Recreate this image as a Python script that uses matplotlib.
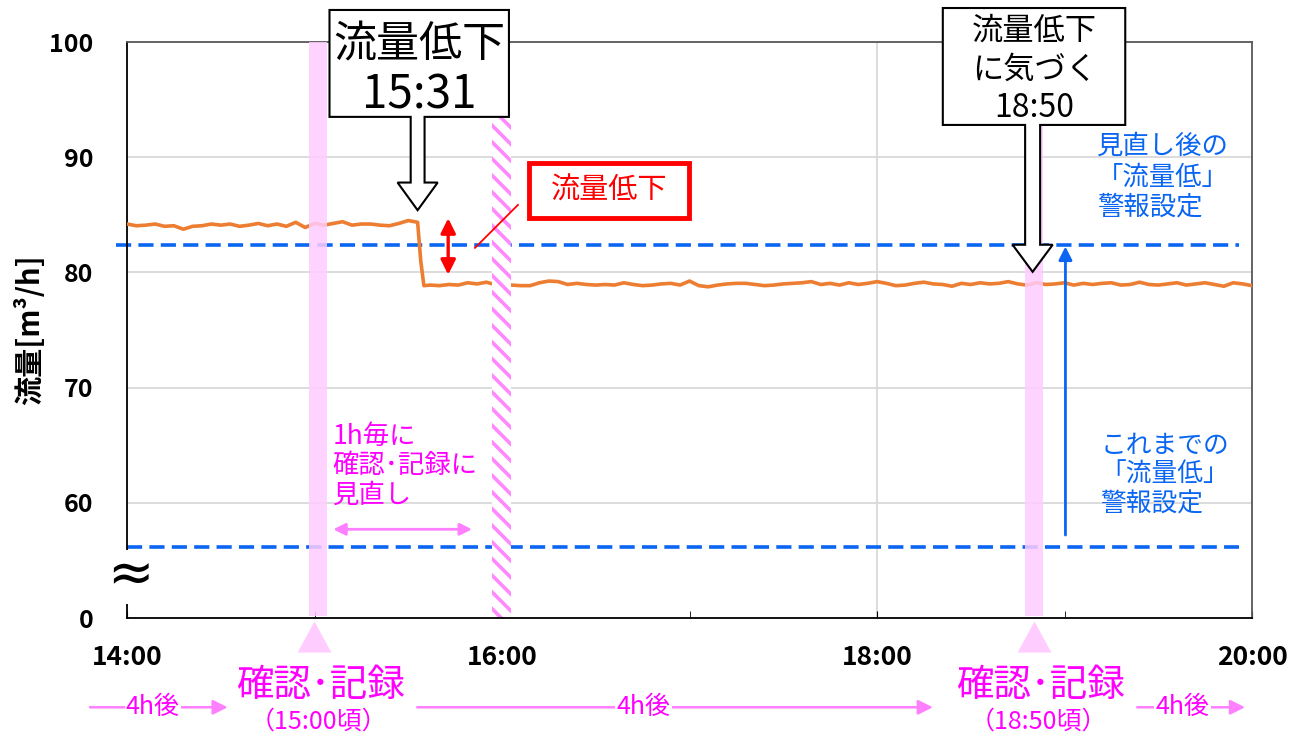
import numpy as np
import matplotlib
matplotlib.use("Agg")
import matplotlib.pyplot as plt
from matplotlib.patches import Polygon, Rectangle

plt.rcParams['font.family'] = ['Noto Sans CJK JP', 'DejaVu Sans']
plt.rcParams['hatch.linewidth'] = 2.6

# ---------------- data ----------------
# flow before the drop: 14:00 .. 15:33, every 3 minutes
flow_pre = [84.2, 84.05, 84.1, 84.2, 84.0, 84.05, 83.75, 84.0, 84.05, 84.2,
            84.1, 84.2, 84.0, 84.1, 84.25, 84.05, 84.2, 84.0, 84.35, 83.9,
            84.25, 84.1, 84.25, 84.4, 84.1, 84.2, 84.2, 84.1, 84.05, 84.25,
            84.5, 84.35]
# drop and low flow until 15:57 (minutes after 14:00)
drop_min = [94, 95, 97, 100, 103, 106, 109, 112, 115, 117]
flow_drop = [81.0, 78.85, 78.9, 78.85, 78.95, 78.9, 79.1, 79.0, 79.15, 79.0]
# flow 16:00 .. 20:00, every 3 minutes
flow_post = [78.9, 78.9, 78.85, 78.85, 79.1, 79.25, 79.2, 78.95, 79.05, 78.95,
             78.9, 78.95, 78.9, 79.1, 78.95, 78.85, 78.9, 79.0, 79.05, 78.9,
             79.25, 78.85, 78.75, 78.9, 79.0, 79.05, 79.05, 78.95, 78.85, 78.9,
             79.0, 79.05, 79.1, 79.2, 78.95, 79.05, 78.9, 79.1, 78.95, 79.05,
             79.2, 79.05, 78.85, 78.9, 79.05, 79.15, 79.0, 78.95, 78.8, 79.05,
             78.95, 79.1, 79.0, 79.05, 79.2, 79.0, 78.9, 79.1, 78.95, 79.0,
             79.1, 78.9, 79.05, 78.95, 79.05, 79.1, 78.9, 78.95, 79.15, 78.95,
             78.9, 79.0, 79.1, 78.9, 79.0, 79.1, 78.95, 78.8, 79.1, 79.0,
             78.85]

alarm_new = 82.4      # display scale (axis broken below 60)
alarm_old = 56.2
y_ticks = [50, 60, 70, 80, 90, 100]
y_ticklabels = ['0', '60', '70', '80', '90', '100']
x_ticks = [14, 16, 18, 20]
x_ticklabels = ['14:00', '16:00', '18:00', '20:00']
check_times = [15.0, 18.84]          # 15:00, 18:50
check_labels = ['（15:00頃）', '（18:50頃）']
drop_time = 15.55
notice_time = 18.83
review_time = 16.0

t_pre = 14 + np.arange(len(flow_pre)) * 3 / 60
t_drop = 14 + np.array(drop_min) / 60
t_post = 16 + np.arange(len(flow_post)) * 3 / 60
t_all = np.concatenate([t_pre, t_drop, t_post])
f_all = np.concatenate([flow_pre, flow_drop, flow_post])

# ---------------- figure ----------------
fig = plt.figure(figsize=(12.89, 7.35), dpi=100)
ax = fig.add_axes([127/1289, 1-618/735, (1252-127)/1289, (618-42)/735])
ax.set_xlim(14, 20)
ax.set_ylim(50, 100)

BLUE = '#0a66f2'
MAG = '#ff00ff'
LPINK = '#ff80ff'
ORANGE = '#ed7d31'

ax.set_yticks(y_ticks)
ax.set_yticklabels(y_ticklabels, fontsize=18, fontweight='bold')
ax.set_xticks(x_ticks)
ax.set_xticklabels(x_ticklabels, fontsize=19, fontweight='bold')
ax.set_xticks([15, 17, 19], minor=True)
ax.tick_params(axis='y', length=0, pad=24)
ax.tick_params(axis='x', which='both', direction='in', length=5, pad=19)
ax.grid(True, which='major', color='#d9d9d9', lw=1.3, zorder=0)
for s in ['top', 'right']:
    ax.spines[s].set_color('#595959')
for s in ['left', 'bottom']:
    ax.spines[s].set_color('black')
for s in ax.spines.values():
    s.set_linewidth(1.3)

# flow line
ax.plot(t_all, f_all, color=ORANGE, lw=2.6, zorder=3)

# alarm lines
ax.plot([13.94, 19.93], [alarm_new, alarm_new], color=BLUE, lw=2.6,
        dashes=(4.2, 2.0), zorder=2, clip_on=False)
ax.plot([14.0, 19.93], [alarm_old, alarm_old], color=BLUE, lw=2.6,
        dashes=(4.2, 2.0), zorder=2)

# pink check bands
ax.axvspan(check_times[0] - 0.027, check_times[0] + 0.064, ymin=0.004, ymax=1.0,
           color='#ffccff', alpha=0.85, lw=0, zorder=4)
ax.axvspan(check_times[1] - 0.05, check_times[1] + 0.045, ymin=0.004, ymax=1.0,
           color='#ffccff', alpha=0.85, lw=0, zorder=4)

# hatched review band at 16:00
hatch = Rectangle((review_time - 0.053, 50.1), 0.101, 93.4 - 50.1,
                  facecolor='white', edgecolor='#ff88ff', hatch='\\\\', lw=0,
                  zorder=5)
ax.add_patch(hatch)


def callout(x0, x1, ybot, ytop, cx, bw, hw, hy, tip):
    pts = [(x0, ytop), (x1, ytop), (x1, ybot), (cx + bw, ybot), (cx + bw, hy),
           (cx + hw, hy), (cx, tip), (cx - hw, hy), (cx - bw, hy),
           (cx - bw, ybot), (x0, ybot)]
    ax.add_patch(Polygon(pts, closed=True, facecolor='white', edgecolor='black',
                         lw=1.5, zorder=10, clip_on=False))


callout(15.08, 16.037, 93.5, 102.78, drop_time, 0.037, 0.107, 87.8, 85.4)
ax.text(15.56, 99.7, '流量低下', fontsize=31, ha='center', va='center', zorder=11)
ax.text(15.56, 95.4, '15:31', fontsize=33, ha='center', va='center', zorder=11)

callout(18.351, 19.324, 92.8, 102.95, notice_time, 0.04, 0.107, 82.4, 80.05)
ax.text(18.84, 100.95, '流量低下', fontsize=22.5, ha='center', va='center', zorder=11)
ax.text(18.84, 97.6, 'に気づく', fontsize=22.5, ha='center', va='center', zorder=11)
ax.text(18.84, 94.3, '18:50', fontsize=23, ha='center', va='center', zorder=11)

# red annotation
ax.add_patch(Rectangle((16.144, 84.7), 0.851, 4.8, facecolor='white',
                       edgecolor='#ff0000', lw=3.5, zorder=9))
ax.text(16.57, 87.1, '流量低下', fontsize=21, color='#ff0000', ha='center',
        va='center', zorder=10)
ax.plot([15.856, 16.085], [82.13, 85.86], color='#ff0000', lw=1.3, zorder=6)
ax.annotate('', xy=(15.713, 79.8), xytext=(15.713, 84.7),
            arrowprops=dict(arrowstyle='<|-|>', color='#ff0000', lw=2.4,
                            mutation_scale=22, shrinkA=0, shrinkB=0), zorder=6)

# blue texts and arrow
ax.text(19.175, 88.3, '見直し後の\n「流量低」\n警報設定', fontsize=19, color=BLUE,
        ha='left', va='center', linespacing=1.15, zorder=6)
ax.text(19.19, 62.4, 'これまでの\n「流量低」\n警報設定', fontsize=18.5, color=BLUE,
        ha='left', va='center', linespacing=1.15, zorder=6)
ax.annotate('', xy=(19.005, 82.25), xytext=(19.005, 57.2),
            arrowprops=dict(arrowstyle='-|>', color=BLUE, lw=2,
                            mutation_scale=20, shrinkA=0, shrinkB=0), zorder=6)

# magenta text and double arrow
ax.text(15.096, 63.2, '1h毎に\n確認･記録に\n見直し', fontsize=19, color=MAG,
        ha='left', va='center', linespacing=1.1, zorder=6)
ax.annotate('', xy=(15.1, 57.7), xytext=(15.84, 57.7),
            arrowprops=dict(arrowstyle='<|-|>', color=LPINK, lw=2,
                            mutation_scale=18, shrinkA=0, shrinkB=0), zorder=6)

# broken axis mark
ax.text(14.016, 53.6, '≈', fontsize=40, ha='center', va='center', zorder=8,
        family=['DejaVu Sans'], clip_on=False,
        bbox=dict(boxstyle='square,pad=0.0', fc='white', ec='none'))

# below-axis annotations
for ct, lab in zip(check_times, check_labels):
    ax.add_patch(Polygon([(ct, 49.7), (ct + 0.09, 47.0), (ct - 0.09, 47.0)],
                         closed=True, facecolor='#ffccff', edgecolor='none',
                         clip_on=False, zorder=5))
    ax.text(ct + 0.03, 44.1, '確認･記録', fontsize=27, color=MAG, ha='center',
            va='center', clip_on=False)
    ax.text(ct + 0.02, 41.0, lab, fontsize=18, color=MAG, ha='center',
            va='center', clip_on=False)

arrow_rows = [(13.803, 14.537, 14.138), (15.548, 18.298, 16.755),
              (19.388, 19.963, 19.628)]
for xa, xb, xt in arrow_rows:
    ax.annotate('', xy=(xb, 42.25), xytext=(xa, 42.25), annotation_clip=False,
                arrowprops=dict(arrowstyle='-|>', color=LPINK, lw=1.8,
                                mutation_scale=22, shrinkA=0, shrinkB=0))
    ax.text(xt, 42.25, '4h後', fontsize=18, color=MAG, ha='center', va='center',
            clip_on=False,
            bbox=dict(boxstyle='square,pad=0.05', fc='white', ec='none'))

fig.text(30/1289, 1 - 330/735, '流量[m³/h]', rotation=90, fontsize=21,
         fontweight='bold', ha='center', va='center')

fig.savefig('out.png', dpi=100)
